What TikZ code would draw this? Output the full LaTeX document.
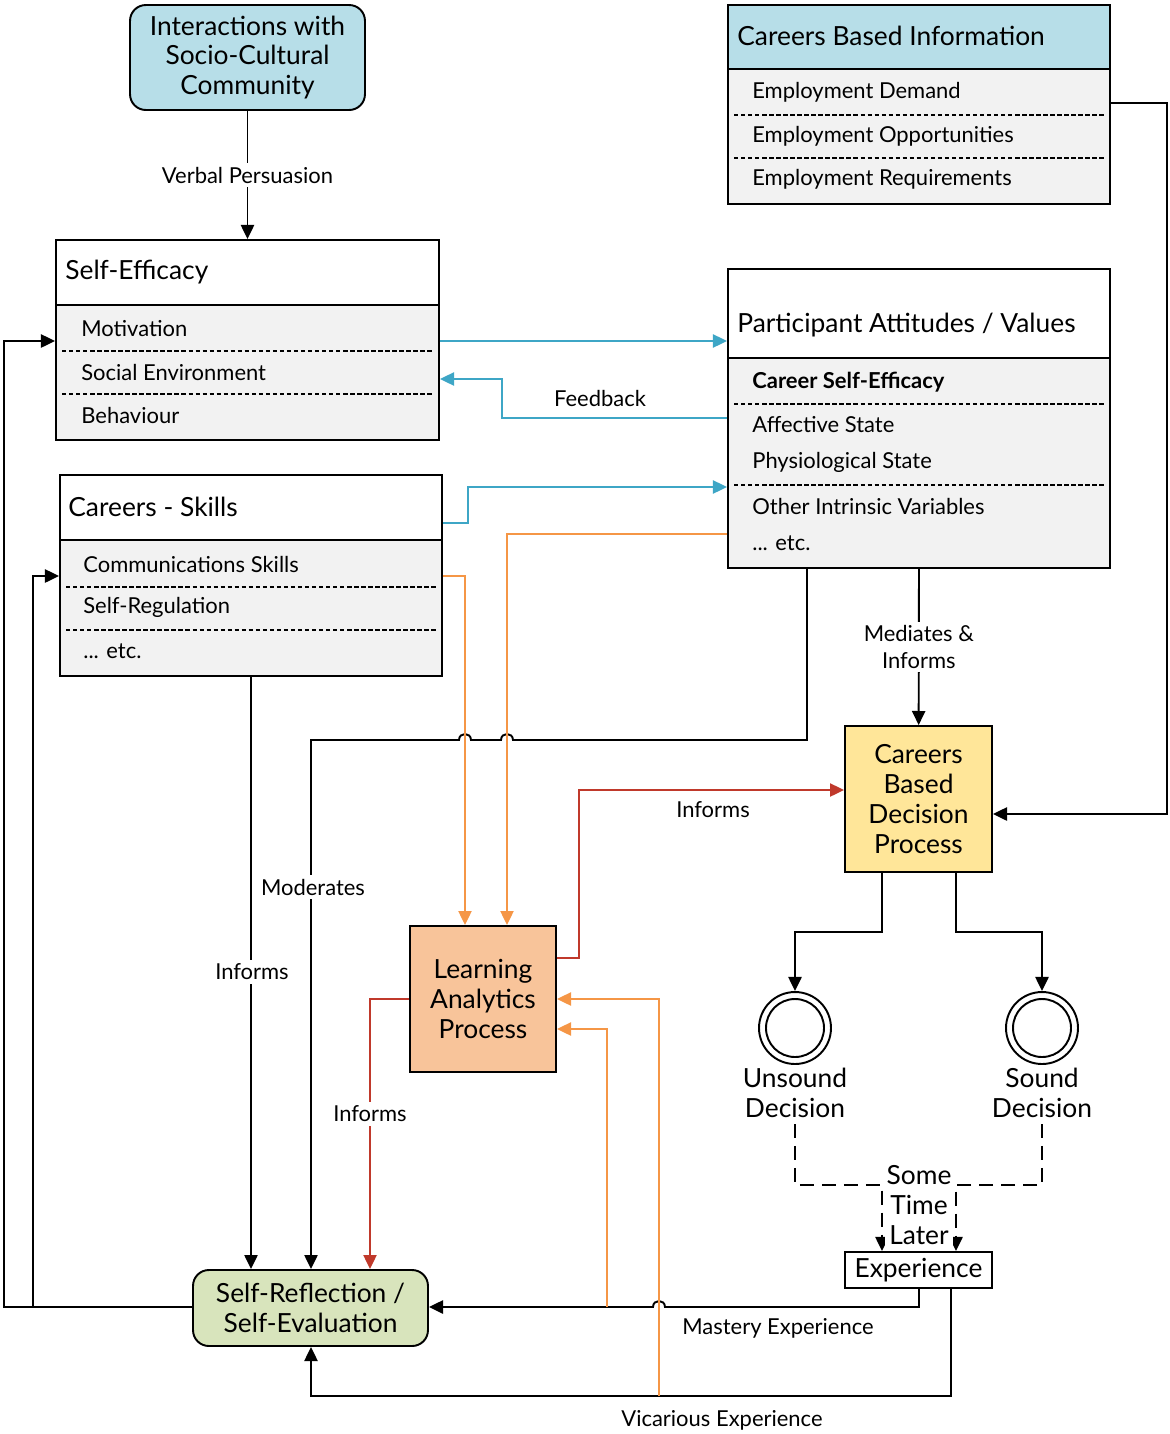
\documentclass[tikz,border=0pt]{standalone}
\usepackage{fontspec}
\setmainfont{Lato}
\usetikzlibrary{arrows.meta,fit}
\definecolor{azulclaro}{RGB}{183,222,232}
\definecolor{grisclaro}{RGB}{242,242,242}
\definecolor{amarillo}{RGB}{255,230,153}
\definecolor{durazno}{RGB}{248,196,154}
\definecolor{verdeclaro}{RGB}{216,228,188}
\definecolor{lineaazul}{RGB}{62,166,198}
\definecolor{lineanaranja}{RGB}{245,150,70}
\definecolor{linearoja}{RGB}{192,57,43}
\tikzset{
  texto/.style={font=\fontsize{12.5}{15}\selectfont, inner sep=0pt},
  grande/.style={font=\fontsize{15}{17}\selectfont, inner sep=0pt},
  fila/.style={texto, anchor=west},
  titulo/.style={grande, anchor=west},
  marco/.style={draw, line width=1.1pt, inner sep=0pt},
  caja/.style={draw, line width=1.1pt, grande, align=center},
  divisor/.style={line width=0.7pt, dash pattern=on 2.5pt off 1.5pt},
  flecha/.style={line width=1.1pt, -{Triangle[length=8pt,width=7.5pt]}},
  azul/.style={flecha, draw=lineaazul, line width=1pt},
  naranja/.style={flecha, draw=lineanaranja, line width=1pt},
  rojo/.style={flecha, draw=linearoja, line width=1pt},
  etiqueta/.style={texto, fill=white, inner sep=2pt}
}
\begin{document}
\begin{tikzpicture}[x=0.02cm,y=-0.02cm]
  \useasboundingbox (0,0) rectangle (1170,1434);
  % Cajas simples
  \node[caja, fill=azulclaro, rounded corners=9pt, minimum width=4.7cm, minimum height=2.1cm] (ic) at (247.5,57.5) {Interactions with\\Socio-Cultural\\Community};
  \node[caja, fill=amarillo, minimum width=2.94cm, minimum height=2.92cm] (dp) at (918.5,799) {Careers\\Based\\Decision\\Process};
  \node[caja, fill=durazno, minimum width=2.92cm, minimum height=2.92cm] (la) at (483,999) {Learning\\Analytics\\Process};
  \node[caja, minimum width=2.94cm, minimum height=0.72cm] (ex) at (918.5,1270) {Experience};
  \node[caja, fill=verdeclaro, rounded corners=9pt, minimum width=4.7cm, minimum height=1.52cm] (sr) at (310.5,1308) {Self-Reflection /\\Self-Evaluation};
  % Self-Efficacy
  \fill[grisclaro] (56,305) rectangle (439,440);
  \node[marco, fit={(56,240) (439,440)}] (se) {};
  \draw[line width=1.1pt] (56,305) -- (439,305);
  \node[titulo] (seT) at (65,272) {Self-Efficacy};
  \node[fila] (se1) at (81,329) {Motivation};
  \node[fila] (se2) at (81,372) {Social Environment};
  \node[fila] (se3) at (81,415) {Behaviour};
  \draw[divisor] (62,351) -- (433,351);
  \draw[divisor] (62,394) -- (433,394);
  % Careers - Skills
  \fill[grisclaro] (60,540) rectangle (442,676);
  \node[marco, fit={(60,475) (442,676)}] (cs) {};
  \draw[line width=1.1pt] (60,540) -- (442,540);
  \node[titulo] (csT) at (68,507) {Careers - Skills};
  \node[fila] (cs1) at (83,564) {Communications Skills};
  \node[fila] (cs2) at (83,607) {Self-Regulation};
  \node[fila] (cs3) at (83,651) {... etc.};
  \draw[divisor] (66,587) -- (436,587);
  \draw[divisor] (66,630) -- (436,630);
  % Careers Based Information
  \fill[azulclaro] (728,5) rectangle (1110,69);
  \fill[grisclaro] (728,69) rectangle (1110,204);
  \node[marco, fit={(728,5) (1110,204)}] (ci) {};
  \draw[line width=1.1pt] (728,69) -- (1110,69);
  \node[titulo] (ciT) at (737,36) {Careers Based Information};
  \node[fila] (ci1) at (752,92) {Employment Demand};
  \node[fila] (ci2) at (752,136) {Employment Opportunities};
  \node[fila] (ci3) at (752,179) {Employment Requirements};
  \draw[divisor] (734,115) -- (1104,115);
  \draw[divisor] (734,158) -- (1104,158);
  % Participant Attitudes / Values
  \fill[grisclaro] (728,358) rectangle (1110,568);
  \node[marco, fit={(728,269) (1110,568)}] (pa) {};
  \draw[line width=1.1pt] (728,358) -- (1110,358);
  \node[titulo] (paT) at (737,325) {Participant Attitudes / Values};
  \node[fila, font=\fontsize{12.5}{15}\selectfont\bfseries] (pa1) at (752,382) {Career Self-Efficacy};
  \node[fila] (pa2) at (752,425) {Affective State};
  \node[fila] (pa3) at (752,462) {Physiological State};
  \node[fila] (pa4) at (752,506) {Other Intrinsic Variables};
  \node[fila] (pa5) at (752,543) {... etc.};
  \draw[divisor] (734,404) -- (1104,404);
  \draw[divisor] (734,485) -- (1104,485);
  % Decisiones
  \node[circle, draw, line width=1.1pt, minimum size=1.44cm] (ud) at (795,1028) {};
  \draw[line width=1.1pt] (ud) circle[radius=29];
  \node[circle, draw, line width=1.1pt, minimum size=1.44cm] (sd) at (1042,1028) {};
  \draw[line width=1.1pt] (sd) circle[radius=29];
  \node[grande, align=center] (udT) at (795,1093) {Unsound\\Decision};
  \node[grande, align=center] (sdT) at (1042,1093) {Sound\\Decision};
  % Flechas negras
  \draw[flecha] (ic) -- node[etiqueta] (vp) {Verbal Persuasion} (se);
  \draw[flecha] (pa.south -| 919,0) -- node[etiqueta, align=center] (mi) {Mediates \&\\Informs} (dp);
  \draw[flecha] (ci.east |- 0,103) -| (1167,814) -- (dp.east |- 0,814);
  \draw[flecha] (dp.south -| 882,0) |- (795,932) -- (ud);
  \draw[flecha] (dp.south -| 956,0) |- (1042,932) -- (sd);
  \draw[flecha] (pa.south -| 807,0) -- (807,740) -- (513,740) .. controls (513,732) and (501,732) .. (501,740) -- (471,740) .. controls (471,732) and (459,732) .. (459,740) -- (311,740) -- (sr.north -| 311,0);
  \node[etiqueta] (mod) at (313,887) {Moderates};
  \draw[flecha] (cs.south -| 251,0) -- (sr.north -| 251,0);
  \node[etiqueta] (inf1) at (252,972) {Informs};
  \draw[flecha] (ex.south -| 919,0) -- (919,1307) -- (665,1307) .. controls (665,1299) and (653,1299) .. (653,1307) -- (sr.east |- 0,1307);
  \node[texto] (me) at (778,1328) {Mastery Experience};
  \draw[flecha] (ex.south -| 951,0) |- (311,1396) -- (sr.south -| 311,0);
  \node[texto] (ve) at (722,1420) {Vicarious Experience};
  \coordinate (r1) at (4,1307);
  \coordinate (r2) at (33,1307);
  \draw[flecha] (sr.west |- 0,1307) -- (r1) |- (se.west |- 0,341);
  \draw[flecha] (r2) |- (cs.west |- 0,576);
  % Tiempo despues
  \draw[flecha, dash pattern=on 8pt off 4.5pt] (udT.south |- 0,1124) |- (882,1185) -- (ex.north -| 882,0);
  \draw[flecha, dash pattern=on 8pt off 4.5pt] (sdT.south |- 0,1124) |- (956,1185) -- (ex.north -| 956,0);
  \node[grande, align=center, fill=white, inner sep=1pt] (stl) at (919,1205) {Some\\Time\\Later};
  % Flechas azules
  \draw[azul] (se.east |- 0,341) -- (pa.west |- 0,341);
  \draw[azul] (pa.west |- 0,418) -| (502,379) -- (se.east |- 0,379);
  \node[texto] (fb) at (600,398) {Feedback};
  \draw[azul] (cs.east |- 0,523) -| (468,487) -- (pa.west |- 0,487);
  % Flechas naranjas
  \draw[naranja] (cs.east |- 0,576) -| (la.north -| 465,0);
  \draw[naranja] (pa.west |- 0,534) -| (la.north -| 507,0);
  \coordinate (o1) at (659,1396);
  \coordinate (o2) at (607,1307);
  \draw[naranja] (o1) |- (la.east |- 0,999);
  \draw[naranja] (o2) |- (la.east |- 0,1029);
  % Flechas rojas
  \draw[rojo] (la.east |- 0,958) -| (579,790) -- (dp.west |- 0,790);
  \node[texto] (inf2) at (713,810) {Informs};
  \draw[rojo] (la.west) -| (sr.north -| 370,0);
  \node[etiqueta] (inf3) at (370,1114) {Informs};
\end{tikzpicture}
\end{document}
